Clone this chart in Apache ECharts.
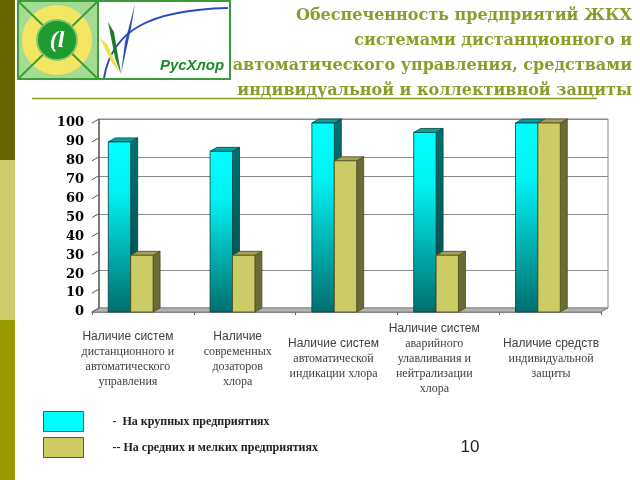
<!DOCTYPE html>
<html>
<head>
<meta charset="utf-8">
<script src="https://cdn.jsdelivr.net/npm/echarts@6/dist/echarts.min.js"></script>
<style>
html,body{margin:0;padding:0;background:#fff;}
#chart{width:640px;height:480px;}
</style>
</head>
<body>
<div id="chart"></div>
<script>
// ---- data ----
const categories = [
  'Наличие систем\nдистанционного и\nавтоматического\nуправления',
  'Наличие\nсовременных\nдозаторов\nхлора',
  'Наличие систем\nавтоматической\nиндикации хлора',
  'Наличие систем\nаварийного\nулавливания и\nнейтрализации\nхлора',
  'Наличие средств\nиндивидуальной\nзащиты'
];
const largeValues = [90, 85, 100, 95, 100];
const smallValues = [30, 30, 80, 30, 100];
const seriesNames = ['На крупных предприятиях', 'На средних и мелких предприятиях'];
const legendPrefixes = ['-  ', '-- '];
const yTicks = [0, 10, 20, 30, 40, 50, 60, 70, 80, 90, 100];
const wallGridValues = [100, 80, 70, 50, 20];
const titleLines = [
  'Обеспеченность предприятий ЖКХ',
  'системами дистанционного и',
  'автоматического управления, средствами',
  'индивидуальной и коллективной защиты'
];
const pageNumber = '10';

// ---- layout / style ----
const DX = 7, DY = -4;
const labelShift = [-15, -7, -13, -14, 1];
const titleColor = '#8c9b2a';

const chart = echarts.init(document.getElementById('chart'));

function wallRender(params, api) {
  const cs = params.coordSys;
  const L = cs.x, R = cs.x + cs.width;
  const y0 = api.coord([0, 0])[1];
  const y100 = api.coord([0, 100])[1];
  const children = [];
  children.push({type: 'rect', shape: {x: L + DX, y: y100 + DY, width: R - L, height: y0 - y100},
    style: {fill: '#ffffff', stroke: '#8a8a8a', lineWidth: 1}});
  wallGridValues.forEach(v => {
    const y = Math.round(api.coord([0, v])[1] + DY) + 0.5;
    children.push({type: 'line', shape: {x1: L + DX, y1: y, x2: R + DX, y2: y},
      style: {stroke: '#8a8a8a', lineWidth: 1}});
  });
  children.push({type: 'polygon', shape: {points: [[L, y0], [L + DX, y0 + DY], [R + DX, y0 + DY], [R, y0]]},
    style: {fill: '#b4b4b4', stroke: '#808080', lineWidth: 1}});
  children.push({type: 'line', shape: {x1: L + DX, y1: y100 + DY, x2: L + DX, y2: y0 + DY},
    style: {stroke: '#333', lineWidth: 1}});
  yTicks.forEach(v => {
    const y = api.coord([0, v])[1];
    children.push({type: 'line', shape: {x1: L, y1: y, x2: L + DX, y2: y + DY},
      style: {stroke: '#555', lineWidth: 1}});
  });
  return {type: 'group', children: children};
}

function makeBarRender(offset, front, side, top, edge) {
  return function (params, api) {
    const idx = api.value(0), v = api.value(1);
    const band = api.size([1, 0])[0];
    const c = api.coord([idx, 0]);
    const yt = api.coord([idx, v])[1];
    const yb = c[1];
    const x0 = c[0] + band * offset;
    const w = band * 0.22;
    const x1 = x0 + w;
    return {type: 'group', children: [
      {type: 'polygon', shape: {points: [[x1, yt], [x1 + DX, yt + DY], [x1 + DX, yb + DY], [x1, yb]]},
        style: {fill: side, stroke: edge, lineWidth: 0.8}},
      {type: 'polygon', shape: {points: [[x0, yt], [x0 + DX, yt + DY], [x1 + DX, yt + DY], [x1, yt]]},
        style: {fill: top, stroke: edge, lineWidth: 0.8}},
      {type: 'rect', shape: {x: x0, y: yt, width: w, height: yb - yt},
        style: {fill: front, stroke: edge, lineWidth: 0.8}}
    ]};
  };
}

const cyanFront = new echarts.graphic.LinearGradient(0, 0, 0, 1, [
  {offset: 0, color: '#00ffff'}, {offset: 0.3, color: '#00f2f2'},
  {offset: 0.7, color: '#00a6a6'}, {offset: 1, color: '#006e6e'}]);
const cyanSide = new echarts.graphic.LinearGradient(0, 0, 0, 1, [
  {offset: 0, color: '#007272'}, {offset: 1, color: '#004a4a'}]);

const rich = {};
labelShift.forEach((s, i) => {
  const pad = s < 0 ? [0, -2 * s, 0, 0] : [0, 0, 0, 2 * s];
  rich['a' + i] = {fontFamily: 'Liberation Sans', fontSize: 12, color: '#404040', lineHeight: 15, padding: pad};
  rich['b' + i] = {fontFamily: 'Liberation Serif', fontSize: 12, color: '#404040', lineHeight: 15, padding: pad};
});

const logo = [
  {type: 'rect', shape: {x: 18, y: 1, width: 212, height: 78}, style: {fill: '#ffffff', stroke: '#3a9d3a', lineWidth: 2}},
  {type: 'rect', shape: {x: 18, y: 1, width: 80, height: 78}, style: {fill: '#a4dc94', stroke: '#3a9d3a', lineWidth: 2}},
  {type: 'circle', shape: {cx: 57, cy: 40, r: 35}, style: {fill: '#f4e663'}},
  {type: 'line', shape: {x1: 19, y1: 2, x2: 97, y2: 78}, style: {stroke: '#3a9d3a', lineWidth: 2}},
  {type: 'line', shape: {x1: 97, y1: 2, x2: 19, y2: 78}, style: {stroke: '#3a9d3a', lineWidth: 2}},
  {type: 'circle', shape: {cx: 57, cy: 40, r: 20}, style: {fill: '#1f9a2f', stroke: '#7cc86c', lineWidth: 2}},
  {type: 'text', x: 57, y: 41, style: {text: '(l', fill: '#ffffff', font: 'italic bold 24px "Liberation Serif"', textAlign: 'center', textVerticalAlign: 'middle', align: 'center', verticalAlign: 'middle'}},
  {type: 'bezierCurve', shape: {x1: 104, y1: 78, cpx1: 112, cpy1: 30, cpx2: 150, cpy2: 10, x2: 228, y2: 8}, style: {stroke: '#2c4cbc', lineWidth: 2, fill: null}},
  {type: 'polygon', shape: {points: [[100, 38], [107, 44], [120, 73], [112, 63]]}, style: {fill: '#efe046'}},
  {type: 'polygon', shape: {points: [[108, 22], [114, 32], [121, 74], [115, 58]]}, style: {fill: '#1e7f2a'}},
  {type: 'polygon', shape: {points: [[135, 4], [131, 28], [121, 74], [125, 42]]}, style: {fill: '#2c4cbc'}},
  {type: 'text', x: 192, y: 66, style: {text: 'РусХлор', fill: '#1a8a2a', font: 'italic bold 15px "Liberation Sans"', textAlign: 'center', textVerticalAlign: 'middle', align: 'center', verticalAlign: 'middle'}}
];

const option = {
  animation: false,
  backgroundColor: '#ffffff',
  grid: {left: 92, right: 39, top: 123, bottom: 168},
  xAxis: {
    type: 'category', data: categories, boundaryGap: true,
    axisLine: {show: true, lineStyle: {color: '#888'}},
    axisTick: {show: true, length: 3, lineStyle: {color: '#666'}},
    splitLine: {show: false},
    axisLabel: {
      interval: 0, margin: 47, verticalAlign: 'middle',
      formatter: function (value, index) {
        return value.split('\n').map((l, j) => '{' + (j === 0 ? 'a' : 'b') + index + '|' + l + '}').join('\n');
      },
      rich: rich
    }
  },
  yAxis: {
    type: 'value', min: 0, max: 100, interval: 10,
    axisLine: {show: false}, axisTick: {show: false}, splitLine: {show: false},
    axisLabel: {margin: 8, fontFamily: 'DejaVu Serif', fontWeight: 'bold', fontSize: 13, color: '#000'}
  },
  legend: {
    orient: 'vertical', left: 43, top: 411, padding: 0, itemWidth: 40, itemHeight: 20, itemGap: 5,
    icon: 'rect', selectedMode: false,
    data: [
      {name: seriesNames[0], itemStyle: {color: '#00ffff', borderColor: '#555', borderWidth: 1}},
      {name: seriesNames[1], itemStyle: {color: '#cccc66', borderColor: '#555', borderWidth: 1}}
    ],
    formatter: function (name) { return legendPrefixes[seriesNames.indexOf(name)] + name; },
    textStyle: {fontFamily: 'Liberation Serif', fontWeight: 'bold', fontSize: 12, color: '#222', padding: [0, 0, 0, 24]}
  },
  series: [
    {type: 'custom', name: 'wall', silent: true, z: 1, data: [[0, 0]], renderItem: wallRender},
    {type: 'custom', name: seriesNames[0], z: 2, itemStyle: {color: '#00ffff'},
      data: largeValues.map((v, i) => [i, v]), encode: {x: 0, y: 1},
      renderItem: makeBarRender(-0.34, cyanFront, cyanSide, '#00a4a4', '#0a3c3c')},
    {type: 'custom', name: seriesNames[1], z: 3, itemStyle: {color: '#cccc66'},
      data: smallValues.map((v, i) => [i, v]), encode: {x: 0, y: 1},
      renderItem: makeBarRender(-0.12, '#cccc66', '#6b6b35', '#a2a252', '#4a4a22')}
  ],
  graphic: [
    {type: 'rect', shape: {x: 0, y: 0, width: 15, height: 160}, style: {fill: '#666600'}},
    {type: 'rect', shape: {x: 0, y: 160, width: 15, height: 160}, style: {fill: '#cccc6e'}},
    {type: 'rect', shape: {x: 0, y: 320, width: 15, height: 160}, style: {fill: '#999900'}},
    {type: 'group', children: logo},
    {type: 'text', x: 632, y: 3, style: {text: titleLines.join('\n'), fill: titleColor, font: 'bold 16px "DejaVu Serif"', lineHeight: 25, textAlign: 'right', align: 'right', textVerticalAlign: 'top', verticalAlign: 'top'}},
    {type: 'line', shape: {x1: 32, y1: 98.5, x2: 597, y2: 98.5}, style: {stroke: titleColor, lineWidth: 1.5}},
    {type: 'text', x: 470, y: 447, style: {text: pageNumber, fill: '#222', font: '17px "Liberation Sans"', textAlign: 'center', align: 'center', textVerticalAlign: 'middle', verticalAlign: 'middle'}}
  ]
};
chart.setOption(option);
</script>
</body>
</html>
